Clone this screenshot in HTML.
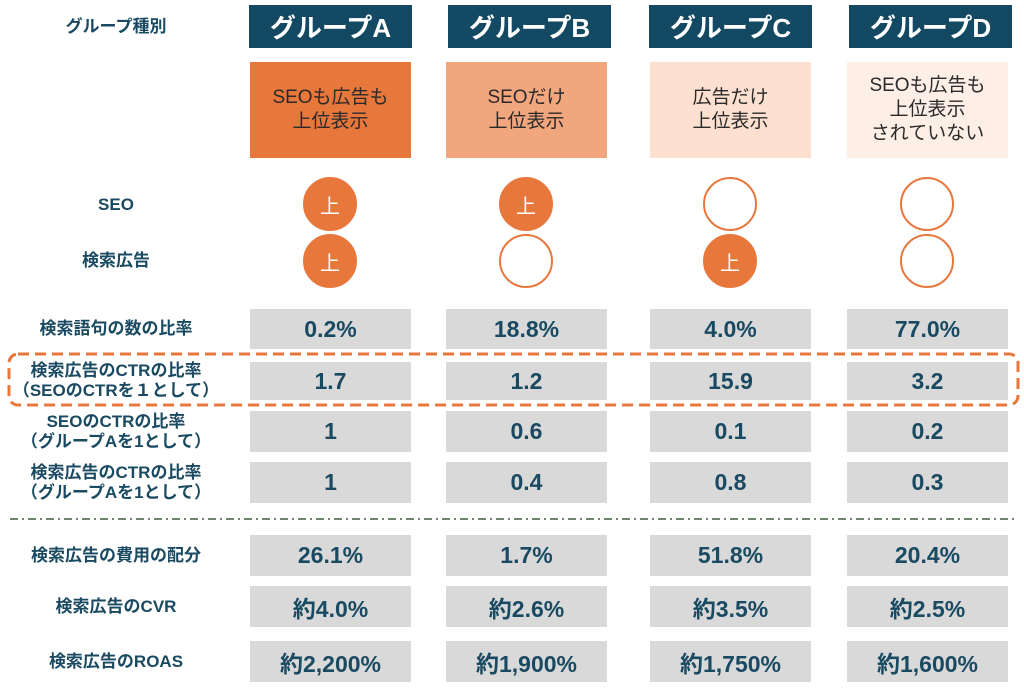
<!DOCTYPE html>
<html><head><meta charset="utf-8">
<style>
body{margin:0;width:1024px;height:695px;background:#fff;position:relative;overflow:hidden;font-family:"Liberation Sans","Noto Sans CJK JP",sans-serif;color:#1a4a62}
.a{position:absolute;box-sizing:border-box;display:flex;align-items:center;justify-content:center;text-align:center}
.hd{background:#134963;color:#fff;font-weight:bold;font-size:26px;top:5px;height:43px}
.bx{top:62px;height:96px;font-size:19px;line-height:24px;color:#2a2a2a}
.lab{left:0;width:232px;font-weight:bold;font-size:17px;line-height:20px;color:#1a4a62}
.cell{background:#d9d9d9;font-weight:bold;font-size:23px;color:#1a4a62}
.circ{width:54px;height:54px;border-radius:50%;border:2px solid #e8773c;font-size:20px;color:#fff}
.circ.on{background:#e8773c}
</style></head><body>
<div class="a lab" style="top:5px;height:43px">グループ種別</div>
<div id="root"></div>
<svg style="position:absolute;left:0;top:0" width="1024" height="695">
<rect x="9" y="354" width="1009" height="51" rx="9" fill="none" stroke="#e8773c" stroke-width="3" stroke-dasharray="11,6"/>
<line x1="10" y1="519" x2="1014" y2="519" stroke="#3f5b3c" stroke-width="1.5" stroke-dasharray="8,4,2,4"/>
</svg>
<script>
const groups=["グループA","グループB","グループC","グループD"];
const descs=["SEOも広告も<br>上位表示","SEOだけ<br>上位表示","広告だけ<br>上位表示","SEOも広告も<br>上位表示<br>されていない"];
const seoTop=[1,1,0,0];
const adTop=[1,0,1,0];
const rowLabels=["検索語句の数の比率","検索広告のCTRの比率<br>（SEOのCTRを１として）","SEOのCTRの比率<br>（グループAを1として）","検索広告のCTRの比率<br>（グループAを1として）","検索広告の費用の配分","検索広告のCVR","検索広告のROAS"];
const rowA=["0.2%","1.7","1","1","26.1%","約4.0%","約2,200%"];
const rowB=["18.8%","1.2","0.6","0.4","1.7%","約2.6%","約1,900%"];
const rowC=["4.0%","15.9","0.1","0.8","51.8%","約3.5%","約1,750%"];
const rowD=["77.0%","3.2","0.2","0.3","20.4%","約2.5%","約1,600%"];
const cols=[rowA,rowB,rowC,rowD];
const hdX=[249,448,649,849],boxX=[250,446,650,847];
const rowY=[309,362,411,462,535,586,641],rowH=[40,38,41,41,41,41,41];
const boxBg=["#e8773c","#f2a67d","#fde0d0","#fdeee6"];
const root=document.getElementById('root');
function mk(cls,style,html){const d=document.createElement('div');d.className='a '+cls;d.style.cssText=style;d.innerHTML='<div>'+html+'</div>';root.appendChild(d);return d;}
groups.forEach((g,i)=>{
 const h=mk('hd',`left:${hdX[i]}px;width:163px`,g);
 
 
 const b=mk('bx',`left:${boxX[i]}px;width:161px;background:${boxBg[i]}`,descs[i]);
 
 
 const cx=boxX[i]+80;
 const c1=mk('circ'+(seoTop[i]?' on':''),`left:${cx-27}px;top:177px`,seoTop[i]?'上':'');
 
 
 const c2=mk('circ'+(adTop[i]?' on':''),`left:${cx-27}px;top:234px`,adTop[i]?'上':'');
 
 
 cols[i].forEach((v,r)=>{
  const c=mk('cell',`left:${boxX[i]}px;width:161px;top:${rowY[r]}px;height:${rowH[r]}px`,v);
  
  
 });
});
const l1=mk('lab','top:190px;height:30px','SEO');


const l2=mk('lab','top:246px;height:30px','検索広告');


rowLabels.forEach((t,r)=>{
 const l=mk('lab',`top:${rowY[r]}px;height:${rowH[r]}px`,t);
 
 
});
</script>
</body></html>
